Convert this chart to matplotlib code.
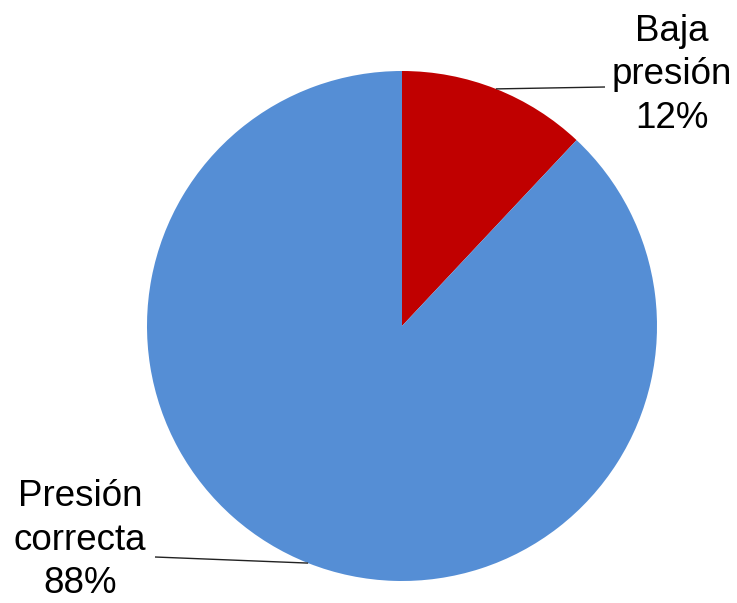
import numpy as np
import matplotlib
matplotlib.use("Agg")
import matplotlib.pyplot as plt

labels = ["Baja\npresión", "Presión\ncorrecta"]
shares = [12, 88]
colors = ["#C00000", "#558ED5"]

W, H = 737, 603
CX, CY, R = 402, H - 326, 255

plt.rcParams["font.family"] = ["Liberation Sans", "DejaVu Sans"]
fig = plt.figure(figsize=(W / 100, H / 100), dpi=100)
ax = fig.add_axes([0, 0, 1, 1])

wedges, _ = ax.pie(shares, colors=colors, startangle=90, counterclock=False,
                   center=(CX, CY), radius=R, wedgeprops=dict(linewidth=0))
ax.set_xlim(0, W)
ax.set_ylim(0, H)
ax.set_aspect("equal")
ax.axis("off")

# label text centre and where the leader line meets the text
label_pos = [(672, H - 75), (80, H - 540)]
line_end = [(605, H - 87), (155, H - 557)]

for w, lab, val, (tx, ty), (lx, ly) in zip(wedges, labels, shares, label_pos, line_end):
    mid = np.deg2rad((w.theta1 + w.theta2) / 2)
    ex, ey = CX + R * np.cos(mid), CY + R * np.sin(mid)
    ax.plot([ex, lx], [ey, ly], color="#222222", lw=1.0, solid_capstyle="butt")
    ax.text(tx, ty, f"{lab}\n{val}%", ha="center", va="center",
            fontsize=26.5, color="black", linespacing=1.33)

fig.savefig("out.png", dpi=100, facecolor="white")
